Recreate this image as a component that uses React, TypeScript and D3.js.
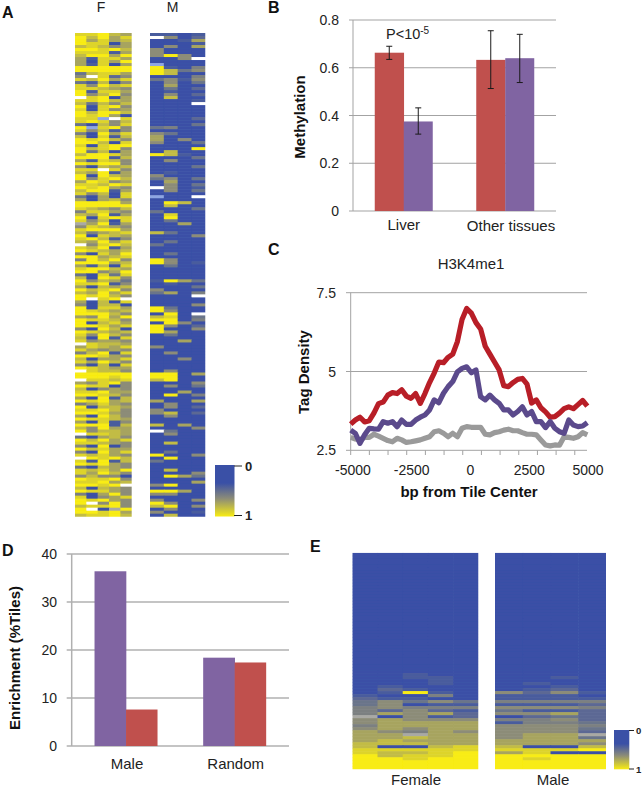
import React from "react";
import * as d3 from "d3";

// panel A: one string per row, "FFFFF MMMM", 0 = blue, 9 = yellow, w = no data, l = pale blue, g = pale grey
const heatA = [
  "88976 1101", "97968 w502", "96867 0016", "98806 0001", "78756 0506", "99897 5000", "88816 5000", "79969 5950",
  "61886 005w", "60869 0000", "61806 l000", "99999 9104", "99999 9735", "37886 9700", "5w825 0004", "87968 3515",
  "31705 0503", "85978 0600", "88765 0302", "91886 0100", "95795 0502", "w8906 0700", "88976 0001", "73757 000w",
  "90895 0000", "80856 0000", "97997 0000", "98960 0000", "88lw8 0002", "89857 0000", "30758 0003", "9l895 3400",
  "85715 0000", "40968 5300", "70817 6000", "98975 6050", "99708 5003", "80899 0000", "97895 0009", "93706 0700",
  "79986 9710", "99917 0003", "61875 0500", "98995 0000", "50767 0003", "88w85 0000", "76916 0100", "90976 5000",
  "95897 3503", "69856 0600", "88798 0503", "98965 w501", "79916 0503", "85708 0000", "30608 l00w", "60675 0000",
  "99996 0970", "99999 0700", "87657 0003", "48865 3000", "76916 0800", "90898 0900", "85708 0300", "g6916 0060",
  "58765 0000", "89996 0000", "74678 7300", "90876 0005", "89715 0000", "76968 0300", "w5897 3000", "87916 0000",
  "98767 0000", "50869 0300", "99678 0000", "49795 9500", "99967 9501", "61708 0300", "89976 0000", "99569 0000",
  "30838 0000", "70985 0000", "95763 1963", "88915 0100", "60767 0003", "97895 5000", "76968 3604", "98975 000w",
  "9w89w 0000", "60708 0000", "50770 0005", "90886 9300", "98767 9500", "99975 090w", "65969 7803", "98875 9904",
  "90786 0950", "99868 9502", "50970 9005", "98767 9600", "85975 0300", "70918 0000", "85665 0060", "w8776 0000",
  "68768 5000", "86565 0000", "47918 0500", "99865 0000", "70668 0050", "86975 0000", "50708 0000", "98766 0000",
  "w8775 0500", "99999 9906", "99989 9900", "w8878 7900", "65895 0005", "98805 0503", "70565 0000", "88966 0060",
  "99875 0904", "60917 0000", "98967 6006", "46865 0500", "90776 0502", "88975 5000", "99865 5702", "60975 0500",
  "98876 0000", "60815 0000", "99917 7060", "75966 0005", "95776 w300", "w8876 0500", "30675 0000", "97968 0000",
  "88765 0700", "50905 0000", "97866 0000", "50968 0300", "87865 9005", "w9897 0900", "81917 3000", "98965 0000",
  "30765 0000", "87869 0700", "86975 0005", "57550 0963", "98895 0000", "88967 0006", "9989w 5900", "70765 0000",
  "98865 9960", "40695 5500", "80568 0000", "98965 5005", "9w595 9500", "78895 7905", "9w0g9 0500", "99896 5001",
  "78897 0700",
];

// panel E rows, same digits
const heatEFemale = [
  ...Array(39).fill("00000"), "00000", "00100", "00110", "00010", "00010", "01000", "02100", "01910", "10040", "21100",
  "35353", "35011", "45444", "42521", "46562", "g0512", "56555", "56666", "46666", "56566", "65465", "66g66",
  "66766", "67666", "77766", "70078", "88888", "87789", "97889", "99899", "99999", "99999", "99999",
].slice(0, 72);
const heatEMale = [
  ...Array(39).fill("0000"), "0000", "0000", "0010", "0000", "0100", "0010", "0120", "5251", "1110", "1111",
  "4444", "1112", "5554", "3112", "5562", "0232", "4452", "1443", "5554", "5553", "5552", "566g",
  "5663", "6666", "6665", "7007", "8889", "6800", "9999", "9899", "9999", "9999", "9999",
].slice(0, 72);

const methCats = ["Liver", "Other tissues"];
const methRed = [0.663, 0.633];
const methPurple = [0.375, 0.64];
const methRedErr = [[0.635, 0.69], [0.513, 0.755]];
const methPurpleErr = [[0.322, 0.432], [0.538, 0.74]];
const methTicks = [0, 0.2, 0.4, 0.6, 0.8];

const tagBp = d3.range(-5000, 5201, 200);
const tagRed = [
  3.33, 3.46, 3.55, 3.4, 3.44, 3.68, 3.98, 4.03, 4.25, 4.33, 4.3, 4.42, 4.22, 4.15, 4.3, 3.99, 4.3, 4.65, 4.95, 5.3,
  5.28, 5.45, 5.55, 5.95, 6.65, 7.0, 6.85, 6.55, 6.35, 5.8, 5.55, 5.3, 5.05, 4.55, 4.52, 4.65, 4.75, 4.78, 4.6, 4.0,
  4.1, 3.85, 3.72, 3.55, 3.57, 3.68, 3.82, 3.88, 3.82, 3.95, 4.08, 3.9,
];
const tagPurple = [
  3.14, 3.04, 2.72, 2.99, 3.2, 3.18, 3.17, 3.41, 3.36, 3.41, 3.25, 3.46, 3.32, 3.32, 3.46, 3.55, 3.62, 3.78, 4.1, 4.01,
  4.31, 4.52, 4.68, 4.99, 5.1, 5.15, 4.96, 5.05, 4.2, 4.1, 4.25, 4.1, 3.99, 3.78, 3.78, 3.62, 3.73, 3.88, 3.62, 3.73,
  3.41, 3.41, 3.22, 3.41, 3.2, 3.09, 3.04, 3.46, 3.3, 3.25, 3.27, 3.38,
];
const tagGray = [
  2.91, 2.86, 2.83, 2.91, 2.91, 3.01, 2.95, 2.88, 2.81, 2.77, 2.88, 2.83, 2.75, 2.77, 2.8, 2.83, 2.88, 2.93, 3.09, 3.12,
  3.04, 2.93, 3.04, 2.93, 3.2, 3.25, 3.23, 3.23, 3.23, 3.01, 2.99, 3.06, 3.09, 3.14, 3.17, 3.12, 3.12, 3.06, 3.01, 3.01,
  2.99, 2.83, 2.67, 2.64, 2.67, 2.66, 2.93, 2.91, 2.88, 2.93, 3.06, 2.99,
];
const tagTicks = [2.5, 5, 7.5];
const tagXLabels = [-5000, -2500, 0, 2500, 5000];
const tagXMinor = d3.range(13).map((i) => -5000 + i * 805);

const enrichCats = ["Male", "Random"];
const enrichPurple = [36.4, 18.4];
const enrichRed = [7.6, 17.4];
const enrichTicks = [0, 10, 20, 30, 40];

const BLUE = "#3a50a6";
const YELLOW = "#f8ec12";
const RED_BAR = "#c0504d";
const PURPLE_BAR = "#8064a2";
const GRID = "#a3a3a3";
const FONT = "'Liberation Sans', Arial, sans-serif";

const cellColor = d3.scaleLinear<string>().domain([0, 5, 9]).range([BLUE, "#8c8c78", YELLOW]);
const fillFor = (c: string) => {
  if (c === "w") return "#ffffff";
  if (c === "l") return "#8fa6e2";
  if (c === "g") return "#a9a9a4";
  return cellColor(+c);
};

function Heat({ rows, x0, x1, y0, y1, clipId }: { rows: string[]; x0: number; x1: number; y0: number; y1: number; clipId: string }) {
  const nCols = rows[0].length;
  const x = d3.scaleBand<number>().domain(d3.range(nCols)).range([x0, x1]);
  const y = d3.scaleBand<number>().domain(d3.range(rows.length)).range([y0, y1]);
  return (
    <g>
      <clipPath id={clipId}>
        <rect x={x0} y={y0} width={x1 - x0} height={y1 - y0} />
      </clipPath>
      <g clipPath={`url(#${clipId})`}>
        <g filter="url(#soft)">
          {rows.map((row, r) =>
            row.split("").map((c, i) => (
              <rect key={r + "-" + i} x={x(i)} y={y(r)} width={x.bandwidth() + 0.6} height={y.bandwidth() + 0.6} fill={fillFor(c)} />
            ))
          )}
        </g>
      </g>
    </g>
  );
}

function GroupedBars({ cats, a, b, colorA, colorB, x, y, groupW }: any) {
  const inner = d3.scaleBand<number>().domain([0, 1]).range([0, groupW]);
  return (
    <g>
      {cats.map((c: string) => {
        const start = x(c) + (x.bandwidth() - groupW) / 2;
        const i = cats.indexOf(c);
        return (
          <g key={c}>
            <rect x={start + inner(0)!} y={y(a[i])} width={inner.bandwidth() + 0.3} height={y(0) - y(a[i])} fill={colorA} />
            <rect x={start + inner(1)!} y={y(b[i])} width={inner.bandwidth()} height={y(0) - y(b[i])} fill={colorB} />
          </g>
        );
      })}
    </g>
  );
}

export default function App() {
  const methX = d3.scaleBand().domain(methCats).range([353, 556]);
  const methY = d3.scaleLinear().domain([0, 0.8]).range([211, 20]);
  const methGroup = 58;
  const methInner = d3.scaleBand<number>().domain([0, 1]).range([0, methGroup]);

  const tagX = d3.scaleLinear().domain([-5000, 5200]).range([350.7, 587.3]);
  const tagLabelX = d3.scaleLinear().domain([-5000, 5000]).range([353, 588]);
  const tagY = d3.scaleLinear().domain([2.5, 7.5]).range([450.3, 292.7]);
  const line = d3.line<number>().x((_, i) => tagX(tagBp[i])).y((d) => tagY(d));

  const enX = d3.scaleBand().domain(enrichCats).range([71.7, 289]);
  const enY = d3.scaleLinear().domain([0, 40]).range([746, 554]);

  const tick = { fontSize: 14, fill: "#222", fontFamily: FONT } as const;
  const cat = { fontSize: 15, fill: "#222", fontFamily: FONT } as const;
  const bold = { fontSize: 15, fontWeight: 700, fill: "#111", fontFamily: FONT } as const;
  const letter = { fontSize: 16, fontWeight: 700, fill: "#111", fontFamily: FONT } as const;

  return (
    <svg width={644} height={787} style={{ position: "absolute", left: 0, top: 0, background: "#fff" }}>
      <defs>
        <linearGradient id="bar" x1="0" y1="0" x2="0" y2="1">
          <stop offset="0" stopColor={BLUE} />
          <stop offset="0.35" stopColor={BLUE} />
          <stop offset="0.65" stopColor="#8c8c78" />
          <stop offset="1" stopColor={YELLOW} />
        </linearGradient>
        <filter id="soft" x="-2%" y="-2%" width="104%" height="104%">
          <feGaussianBlur stdDeviation="0.45" />
        </filter>
      </defs>

      {/* A */}
      <text x={2} y={18} {...letter}>A</text>
      <text x={101} y={12} textAnchor="middle" fontSize={14} fontFamily={FONT} fill="#222">F</text>
      <text x={172.5} y={12} textAnchor="middle" fontSize={14} fontFamily={FONT} fill="#222">M</text>
      <Heat clipId="a-f" rows={heatA.map((r) => r.slice(0, 5))} x0={75} x1={131.7} y0={33} y1={516.7} />
      <Heat clipId="a-m" rows={heatA.map((r) => r.slice(6, 10))} x0={150} x1={205.3} y0={33} y1={516.7} />
      <rect x={215} y={465} width={19.5} height={51.5} fill="url(#bar)" />
      <line x1={234} x2={242} y1={466} y2={466} stroke="#222" />
      <line x1={234} x2={242} y1={515.5} y2={515.5} stroke="#222" />
      <text x={245} y={471} fontSize={13} fontWeight={700} fontFamily={FONT} fill="#222">0</text>
      <text x={245} y={520} fontSize={13} fontWeight={700} fontFamily={FONT} fill="#222">1</text>

      {/* B */}
      <text x={268} y={13} {...letter}>B</text>
      {methTicks.map((t) => (
        <g key={t}>
          <line x1={349} x2={556} y1={methY(t)} y2={methY(t)} stroke={GRID} />
          <text x={339} y={methY(t) + 5} textAnchor="end" {...tick}>{t}</text>
        </g>
      ))}
      <line x1={353} x2={353} y1={20} y2={211} stroke={GRID} />
      <GroupedBars cats={methCats} a={methRed} b={methPurple} colorA={RED_BAR} colorB={PURPLE_BAR} x={methX} y={methY} groupW={methGroup} />
      {methCats.map((c, i) => {
        const start = methX(c)! + (methX.bandwidth() - methGroup) / 2;
        return [
          { err: methRedErr[i], k: 0 },
          { err: methPurpleErr[i], k: 1 },
        ].map(({ err, k }) => {
          const cx = start + methInner(k)! + methInner.bandwidth() / 2;
          return (
            <g key={c + k} stroke="#1a1a1a" strokeWidth={1}>
              <line x1={cx} x2={cx} y1={methY(err[0])} y2={methY(err[1])} />
              <line x1={cx - 3} x2={cx + 3} y1={methY(err[0])} y2={methY(err[0])} />
              <line x1={cx - 3} x2={cx + 3} y1={methY(err[1])} y2={methY(err[1])} />
            </g>
          );
        });
      })}
      <text x={386} y={39} fontSize={14.5} fill="#222" fontFamily={FONT}>
        P&lt;10<tspan dy={-5} fontSize={10}>-5</tspan>
      </text>
      <text x={methX("Liver")! + methX.bandwidth() / 2} y={230} textAnchor="middle" {...cat}>Liver</text>
      <text x={511} y={231} textAnchor="middle" {...cat}>Other tissues</text>
      <text transform="translate(305,117) rotate(-90)" textAnchor="middle" {...bold}>Methylation</text>

      {/* C */}
      <text x={268} y={255} {...letter}>C</text>
      <text x={471} y={269} textAnchor="middle" {...cat}>H3K4me1</text>
      {tagTicks.map((t) => (
        <g key={t}>
          <line x1={346} x2={587} y1={tagY(t)} y2={tagY(t)} stroke={GRID} />
          <text x={336} y={tagY(t) + 5} textAnchor="end" {...tick}>{t}</text>
        </g>
      ))}
      <line x1={350.7} x2={350.7} y1={292.7} y2={450.3} stroke={GRID} />
      {tagXMinor.map((t) => (
        <line key={t} x1={tagX(t)} x2={tagX(t)} y1={450.3} y2={455} stroke={GRID} />
      ))}
      {tagXLabels.map((t) => (
        <text key={t} x={tagLabelX(t)} y={475} textAnchor="middle" {...tick}>{t}</text>
      ))}
      <path d={line(tagGray)!} fill="none" stroke="#9a9a9a" strokeWidth={5.2} strokeLinejoin="round" />
      <path d={line(tagRed)!} fill="none" stroke="#b81e27" strokeWidth={5.2} strokeLinejoin="round" />
      <path d={line(tagPurple)!} fill="none" stroke="#5b4a8c" strokeWidth={5.2} strokeLinejoin="round" />
      <text x={469} y={497} textAnchor="middle" {...bold}>bp from Tile Center</text>
      <text transform="translate(309,372) rotate(-90)" textAnchor="middle" {...bold}>Tag Density</text>

      {/* D */}
      <text x={2} y={556} {...letter}>D</text>
      {enrichTicks.map((t) => (
        <g key={t}>
          <line x1={66.7} x2={289} y1={enY(t)} y2={enY(t)} stroke="#b0b0b0" strokeWidth={1.5} />
          <text x={57} y={enY(t) + 5} textAnchor="end" {...tick}>{t}</text>
        </g>
      ))}
      <line x1={71.7} x2={71.7} y1={554} y2={746} stroke="#b0b0b0" strokeWidth={1.5} />
      <GroupedBars cats={enrichCats} a={enrichPurple} b={enrichRed} colorA={PURPLE_BAR} colorB={RED_BAR} x={enX} y={enY} groupW={63} />
      {enrichCats.map((c) => (
        <text key={c} x={enX(c)! + enX.bandwidth() / 2 + 1} y={769} textAnchor="middle" {...cat}>{c}</text>
      ))}
      <text transform="translate(20,658) rotate(-90)" textAnchor="middle" {...bold}>Enrichment (%Tiles)</text>

      {/* E */}
      <text x={310} y={552} {...letter}>E</text>
      <Heat clipId="e-f" rows={heatEFemale} x0={352.3} x1={478.3} y0={552.7} y1={769.3} />
      <Heat clipId="e-m" rows={heatEMale} x0={495} x1={606} y0={552.7} y1={769.3} />
      <text x={416} y={785} textAnchor="middle" fontSize={15} fontFamily={FONT} fill="#222">Female</text>
      <text x={553} y={785} textAnchor="middle" fontSize={15} fontFamily={FONT} fill="#222">Male</text>
      <rect x={614} y={730} width={15.3} height={39.3} fill="url(#bar)" />
      <line x1={629} x2={634} y1={730.5} y2={730.5} stroke="#222" />
      <line x1={629} x2={634} y1={769} y2={769} stroke="#222" />
      <text x={636} y={734} fontSize={9.5} fontWeight={700} fontFamily={FONT} fill="#222">0</text>
      <text x={636} y={773} fontSize={9.5} fontWeight={700} fontFamily={FONT} fill="#222">1</text>
    </svg>
  );
}
